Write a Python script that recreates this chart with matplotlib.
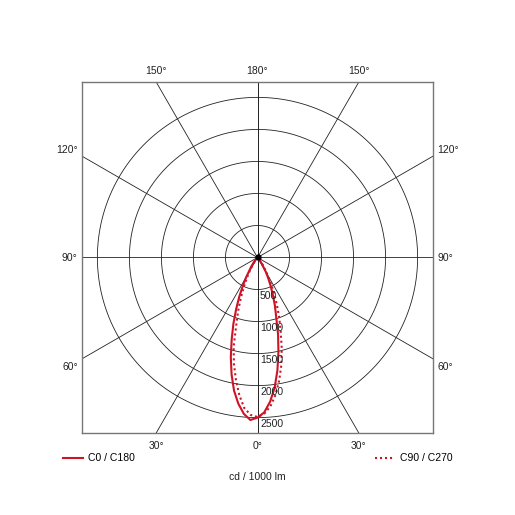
import numpy as np
import matplotlib
matplotlib.use('Agg')
import matplotlib.pyplot as plt
from matplotlib.lines import Line2D

plt.rcParams['font.family'] = ['Liberation Sans', 'DejaVu Sans']

# angles from the downward vertical (deg), one half of each C-plane pair
angles = [0, 2.5, 5, 7.5, 10, 12.5, 15, 17.5, 20, 22.5, 25, 27.5, 30, 35, 40, 45, 50, 60, 70, 80, 90]
c0 = [2500, 2540, 2450, 2300, 2110, 1870, 1610, 1340, 1100, 870, 670, 490, 350, 160, 60, 20, 6, 0, 0, 0, 0]
c180 = [2500, 2420, 2260, 2050, 1790, 1510, 1240, 970, 790, 620, 480, 360, 260, 120, 45, 15, 5, 0, 0, 0, 0]
c90 = [2490, 2460, 2360, 2170, 1940, 1700, 1440, 1100, 880, 680, 500, 360, 250, 110, 40, 12, 4, 0, 0, 0, 0]
c270 = [2490, 2440, 2330, 2160, 1950, 1720, 1460, 1200, 990, 780, 600, 450, 320, 150, 55, 18, 5, 0, 0, 0, 0]

rings = [500, 1000, 1500, 2000, 2500]
spokes = [0, 30, 60, 90, 120, 150, 180]
lim = 2742
red = '#cc1426'
fs = 7.5


def to_xy(left_vals, right_vals):
    a = np.radians(np.concatenate([-np.array(angles[::-1]), np.array(angles[1:])]))
    r = np.concatenate([np.array(left_vals[::-1]), np.array(right_vals[1:])])
    return r * np.sin(a), -r * np.cos(a)


fig = plt.figure(figsize=(5.15, 5.15), dpi=100)
ax = fig.add_axes([0.159, 0.159, 0.682, 0.682])
ax.set_xlim(-lim, lim)
ax.set_ylim(-lim, lim)
ax.set_aspect('equal')

t = np.linspace(0, 2 * np.pi, 400)
for r in rings:
    ax.plot(r * np.cos(t), r * np.sin(t), color='#222222', lw=0.6, zorder=1)
    ax.text(40, -r - 25, str(r), ha='left', va='top', fontsize=fs, color='#222222', zorder=4)
for s in spokes:
    a = np.radians(s)
    L = 5000
    ax.plot([-L * np.sin(a), L * np.sin(a)], [-L * np.cos(a), L * np.cos(a)],
            color='#222222', lw=0.6, zorder=1)

x, y = to_xy(c0, c180)
ax.plot(x, y, color=red, lw=1.5, zorder=3)
x, y = to_xy(c90, c270)
ax.plot(x, y, color=red, lw=1.5, ls=(0, (1, 1.4)), zorder=3)
ax.plot([0], [0], 'o', color='black', ms=3.5, zorder=5)

for sp in ax.spines.values():
    sp.set_color('#777777')
    sp.set_linewidth(1.0)

xt = [-lim * np.tan(np.radians(30)), 0, lim * np.tan(np.radians(30))]
ax.set_xticks(xt)
ax.set_xticklabels(['30°', '0°', '30°'])
yt = [-1690, 0, 1690]
ax.set_yticks(yt)
ax.set_yticklabels(['60°', '90°', '120°'])
ax.tick_params(axis='x', length=0, labelsize=fs, colors='#222222', pad=6)
ax.tick_params(axis='y', length=0, labelsize=fs, colors='#222222', pad=3,
               right=True, labelright=True)
sec = ax.secondary_xaxis('top')
sec.set_xticks(xt)
sec.set_xticklabels(['150°', '180°', '150°'])
sec.tick_params(length=0, labelsize=fs, colors='#222222', pad=4.5)
sec.spines['top'].set_visible(False)

h1 = Line2D([], [], color=red, lw=1.5)
h2 = Line2D([], [], color=red, lw=1.5, ls=(0, (1, 1.4)))
leg1 = fig.legend([h1], ['C0 / C180'], loc='center left', bbox_to_anchor=(0.122, 0.11),
                  frameon=False, fontsize=fs, handlelength=1.9, handletextpad=0.5,
                  borderaxespad=0, borderpad=0)
leg2 = fig.legend([h2], ['C90 / C270'], loc='center right', bbox_to_anchor=(0.879, 0.11),
                  frameon=False, fontsize=fs, handlelength=1.9, handletextpad=0.5,
                  borderaxespad=0, borderpad=0)
fig.text(0.5, 0.073, 'cd / 1000 lm', ha='center', va='center', fontsize=fs, color='#222222')

fig.savefig('out.png', dpi=100, facecolor='white')
